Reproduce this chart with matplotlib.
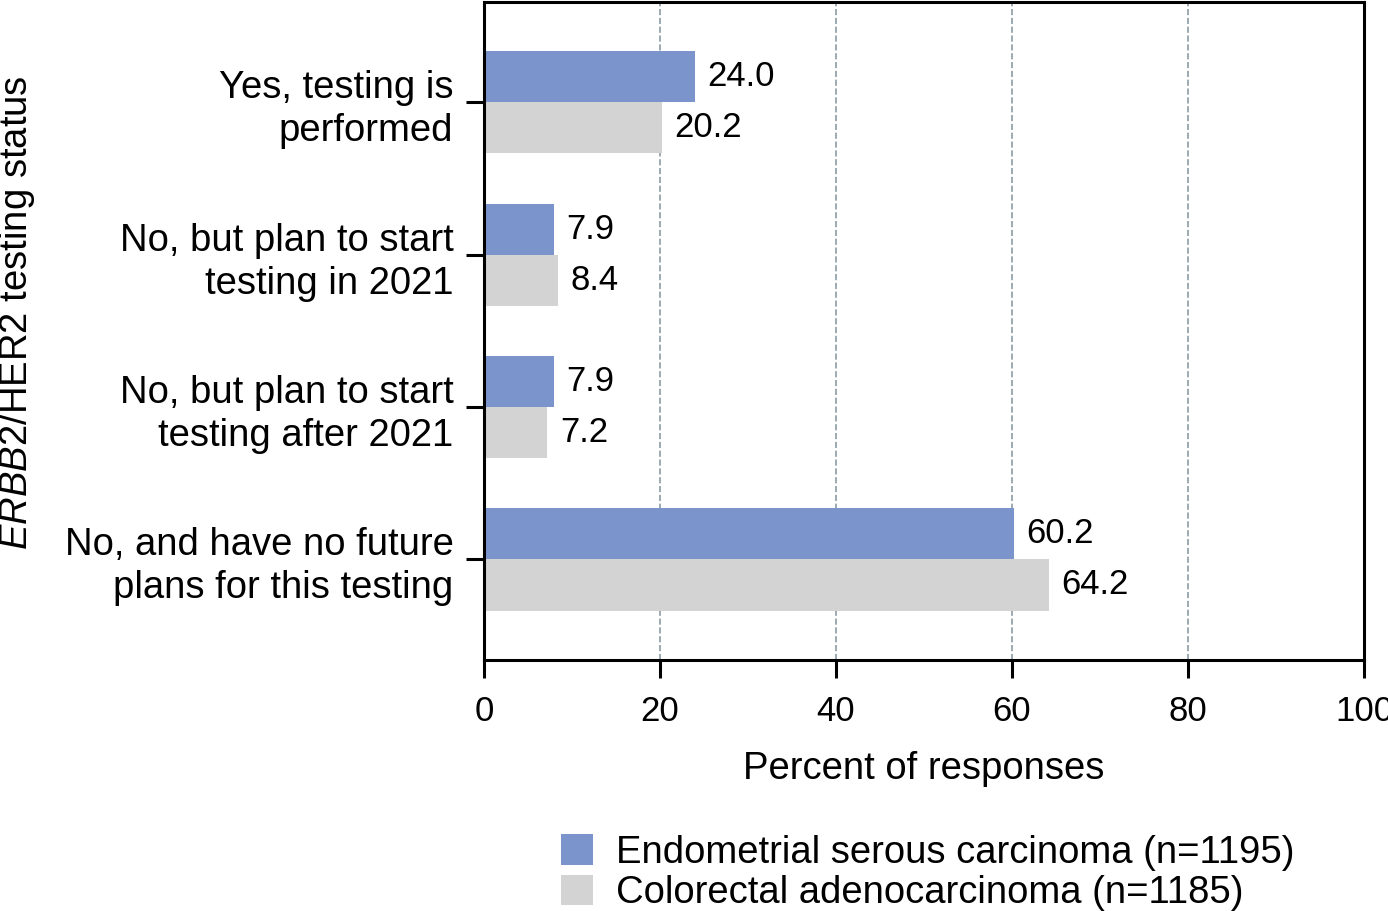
import numpy as np
import matplotlib
matplotlib.use('Agg')
import matplotlib.pyplot as plt

plt.rcParams['font.family'] = ['Liberation Sans', 'DejaVu Sans']
plt.rcParams['mathtext.fontset'] = 'custom'
plt.rcParams['mathtext.it'] = 'Liberation Sans:italic'
plt.rcParams['mathtext.rm'] = 'Liberation Sans'

categories = ['Yes, testing is\nperformed',
              'No, but plan to start\ntesting in 2021',
              'No, but plan to start\ntesting after 2021',
              'No, and have no future\nplans for this testing']
endometrial = [24.0, 7.9, 7.9, 60.2]
colorectal = [20.2, 8.4, 7.2, 64.2]
series_names = ['Endometrial serous carcinoma (n=1195)',
                'Colorectal adenocarcinoma (n=1185)']
xticks = [0, 20, 40, 60, 80, 100]

fig = plt.figure(figsize=(13.88, 9.11), dpi=100)
ax = fig.add_axes([0.3487, 0.2755, 0.634, 0.7225])

y = np.arange(len(categories))
h = 0.335
b1 = ax.barh(y - h / 2, endometrial, height=h, color='#7b95cc', label=series_names[0], zorder=2)
b2 = ax.barh(y + h / 2, colorectal, height=h, color='#d3d3d3', label=series_names[1], zorder=2)
ax.bar_label(b1, labels=['%.1f' % v for v in endometrial], padding=9, fontsize=25)
ax.bar_label(b2, labels=['%.1f' % v for v in colorectal], padding=9, fontsize=25)

ax.set_xlim(0, 100)
ax.set_ylim(3.66, -0.66)
ax.set_xticks(xticks)
ax.set_yticks(y)
ax.set_yticklabels(categories, fontsize=27.5, linespacing=1.25)
ax.tick_params(axis='x', labelsize=25, length=13, width=2.2, pad=12, direction='out')
ax.tick_params(axis='y', length=13, width=2.2, pad=9, direction='out')
for s in ax.spines.values():
    s.set_linewidth(2.2)

ax.xaxis.grid(True, linestyle='--', color='#8e9ca6', linewidth=1.2, zorder=0)
ax.set_axisbelow(True)

ax.set_xlabel('Percent of responses', fontsize=27.5, labelpad=17)
fig.text(0.0125, 0.657, r'$\mathit{ERBB2}$/HER2 testing status', rotation=90,
         fontsize=27.5, ha='center', va='center')

fig.legend(handles=[b1, b2], loc='lower left', bbox_to_anchor=(0.404, 0.0),
           frameon=False, fontsize=27.5, handlelength=0.85, handleheight=0.85,
           handletextpad=0.6, labelspacing=0.1, borderpad=0, borderaxespad=0)

fig.savefig('out.png', dpi=100)
